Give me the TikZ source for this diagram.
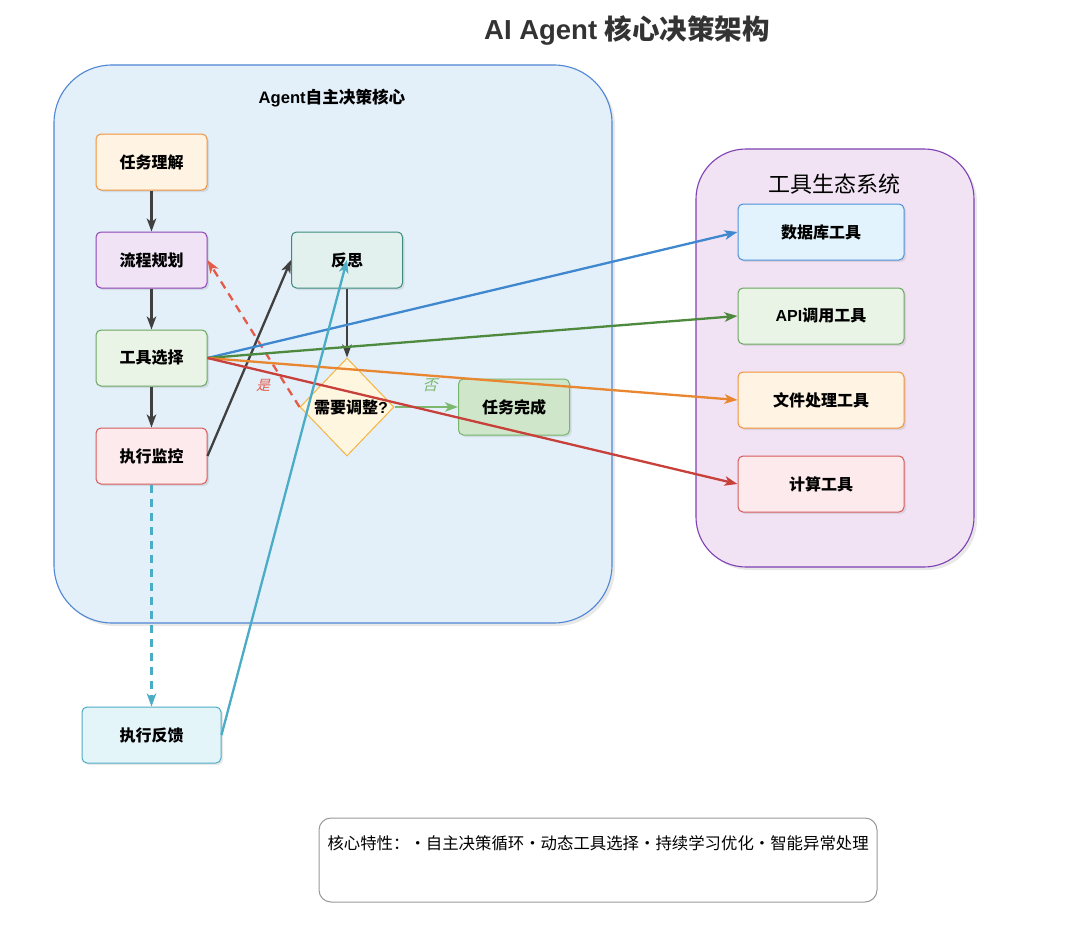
\documentclass[tikz,border=0pt]{standalone}
\usepackage{fontspec}
\setmainfont{Noto Sans CJK SC}
\newfontfamily\lat{Liberation Sans}
\newfontfamily\slantcjk{Noto Sans CJK SC}[FakeSlant=0.25]
\usetikzlibrary{shapes.geometric,arrows.meta,shadows}
\definecolor{cbg}{HTML}{E3F0FA}\definecolor{cbd}{HTML}{4F86D4}
\definecolor{tbg}{HTML}{F1E3F3}\definecolor{tbd}{HTML}{7F3FB5}
\definecolor{orF}{HTML}{FFF4E3}\definecolor{orD}{HTML}{F0923A}
\definecolor{puF}{HTML}{F0E3F5}\definecolor{puD}{HTML}{8E42B4}
\definecolor{grF}{HTML}{EAF4E6}\definecolor{grD}{HTML}{6AA560}
\definecolor{reF}{HTML}{FCEAED}\definecolor{reD}{HTML}{D65A5A}
\definecolor{teF}{HTML}{E2F0EE}\definecolor{teD}{HTML}{3D8B7D}
\definecolor{doF}{HTML}{CFE6CA}\definecolor{doD}{HTML}{76B56B}
\definecolor{cyF}{HTML}{E4F5FA}\definecolor{cyD}{HTML}{4CACC4}
\definecolor{blF}{HTML}{E3F3FD}\definecolor{blD}{HTML}{4A90D9}
\definecolor{diF}{HTML}{FFF6E0}\definecolor{diD}{HTML}{F5B340}
\definecolor{eDark}{HTML}{404040}\definecolor{eBlue}{HTML}{3F88CF}
\definecolor{eGreen}{HTML}{4E8A3E}\definecolor{eOrange}{HTML}{E8872F}
\definecolor{eRed}{HTML}{C7403A}\definecolor{eRedD}{HTML}{E55B4A}
\definecolor{eTeal}{HTML}{4BACC6}\definecolor{eNo}{HTML}{7CB86E}
\definecolor{titleC}{HTML}{333333}
\tikzset{
  box/.style={rectangle, rounded corners=5pt, line width=1pt, minimum width=111pt, minimum height=56pt,
     font=\fontsize{16}{19}\selectfont\bfseries, text=black,
     drop shadow={opacity=0.18, shadow xshift=2pt, shadow yshift=-2pt}},
  toolbox/.style={box, minimum width=166pt},
  container/.style={rounded corners=58pt, line width=1.1pt,
     drop shadow={opacity=0.18, shadow xshift=3pt, shadow yshift=-3pt}},
  conn/.style={line width=2.3pt, -{Stealth[length=13pt,width=9.5pt,inset=3.5pt]}},
  dashconn/.style={conn, dash pattern=on 8pt off 6pt},
}
\begin{document}
\begin{tikzpicture}[x=1pt,y=-1pt]
\useasboundingbox (0,0) rectangle (1080,942);
\fill[white] (0,0) rectangle (1080,942);
% title
\node[font=\fontsize{27.5}{32}\selectfont\bfseries, text=titleC] (title) at (627,30) {{\lat AI Agent }核心决策架构};
% containers
\draw[container, fill=cbg, draw=cbd] (54,65) rectangle (612,623);
\node[font=\fontsize{16.6}{19}\selectfont\bfseries] (corelbl) at (332,98) {{\lat Agent}自主决策核心};
\draw[container, rounded corners=50pt, fill=tbg, draw=tbd] (696,149) rectangle (974,567);
\node[font=\fontsize{22}{26}\selectfont] (toollbl) at (834,184) {工具生态系统};
% left boxes
\node[box, fill=orF, draw=orD] (task) at (151.5,162) {任务理解};
\node[box, fill=puF, draw=puD] (plan) at (151.5,260) {流程规划};
\node[box, fill=grF, draw=grD] (sel) at (151.5,358) {工具选择};
\node[box, fill=reF, draw=reD] (mon) at (151.5,456) {执行监控};
\node[box, fill=teF, draw=teD] (refl) at (347,260) {反思};
\node[diamond, aspect=1, minimum width=94pt, minimum height=98pt, inner sep=0pt, fill=diF, draw=diD, line width=1pt] (dia) at (347,407) {};
\node[font=\fontsize{16}{19}\selectfont\bfseries] (dialbl) at (351,407) {需要调整{\lat ?}};
\node[box, fill=doF, draw=doD] (done) at (514,407) {任务完成};
\node[box, minimum width=139pt, fill=cyF, draw=cyD] (fb) at (151.5,735) {执行反馈};
% tools
\node[toolbox, fill=blF, draw=blD] (db) at (821,232) {数据库工具};
\node[toolbox, fill=grF, draw=grD] (api) at (821,316) {{\lat API}调用工具};
\node[toolbox, fill=orF, draw=orD] (file) at (821,400) {文件处理工具};
\node[toolbox, fill=reF, draw=reD] (calc) at (821,484) {计算工具};
% note
\node[draw=black!40, line width=1pt, rounded corners=12pt, fill=white, minimum width=558pt, minimum height=84pt] (note) at (598,860) {};
\node[anchor=west, font=\fontsize{16.4}{19}\selectfont] (notetxt) at (324,843) {核心特性：•自主决策循环•动态工具选择•持续学习优化•智能异常处理};
% edges
\draw[conn, eDark] (task) -- (plan);
\draw[conn, eDark] (plan) -- (sel);
\draw[conn, eDark] (sel) -- (mon);
\draw[conn, eDark] (mon.east) -- (refl.west);
\draw[conn, eDark] (refl.south) -- (dia.north);
\draw[conn, eNo] (dia.east) -- (done.west);
\node[font=\fontsize{15}{18}\selectfont\slantcjk, text=eNo] (nolbl) at (430,385) {否};
\draw[dashconn, eRedD] (dia.west) -- (plan.east);
\node[font=\fontsize{14}{17}\selectfont\slantcjk, text=eRedD] (yeslbl) at (263,385) {是};
\draw[conn, eBlue] (sel.east) -- (db.west);
\draw[conn, eGreen] (sel.east) -- (api.west);
\draw[conn, eOrange] (sel.east) -- (file.west);
\draw[conn, eRed] (sel.east) -- (calc.west);
\draw[dashconn, eTeal] (mon.south) -- (fb.north);
\draw[conn, eTeal] (fb.east) -- (refl.center);
\end{tikzpicture}
\end{document}
